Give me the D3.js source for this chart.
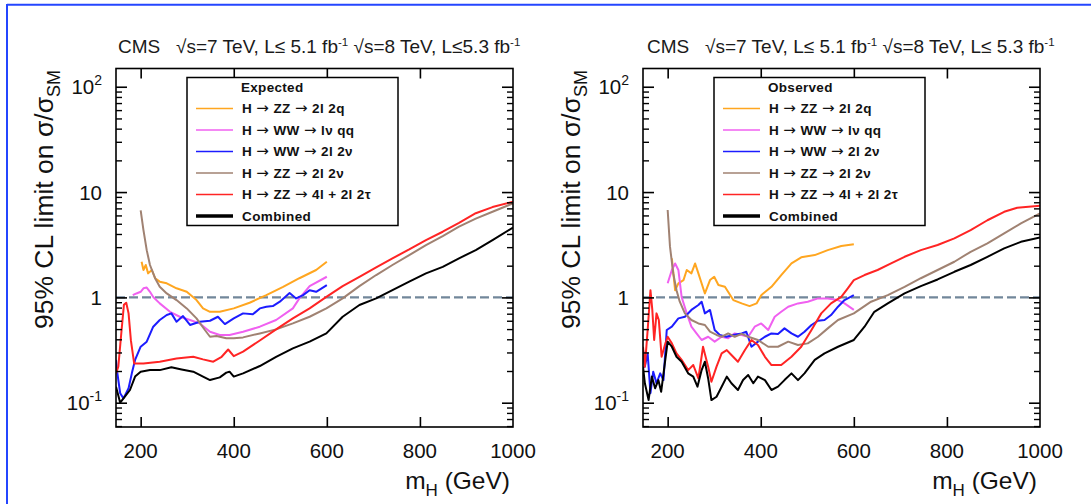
<!DOCTYPE html>
<html><head><meta charset="utf-8">
<script src="https://cdn.jsdelivr.net/npm/d3@7"></script>
<style>
html,body{margin:0;padding:0;background:#fff;}
svg{display:block;font-family:"Liberation Sans",Arial,Helvetica,sans-serif;}
text{white-space:pre;}
</style></head><body>
<svg id="chart" width="1091" height="504"></svg>
<script>
// ---------------- data ----------------
const massTicks = [200, 400, 600, 800, 1000];
const yMajorTicks = [0.1, 1, 10, 100];
const yTickBase = ["10", "1", "10", "10"];
const yTickSup = ["-1", "", "", "2"];
const seriesLabels = ["H \u2192 ZZ \u2192 2l 2q", "H \u2192 WW \u2192 l\u03BD qq", "H \u2192 WW \u2192 2l 2\u03BD",
  "H \u2192 ZZ \u2192 2l 2\u03BD", "H \u2192 ZZ \u2192 4l + 2l 2\u03C4", "Combined"];
const seriesColors = ["#ffa620", "#f060f0", "#1c1cff", "#a08272", "#ff2424", "#000000"];
const panelTitles = ["Expected", "Observed"];
const headerTexts = [
  ["CMS   \u221As=7 TeV, L\u2264 5.1 fb", "-1", " \u221As=8 TeV, L\u22645.3 fb", "-1"],
  ["CMS   \u221As=7 TeV, L\u2264 5.1 fb", "-1", " \u221As=8 TeV, L\u2264 5.3 fb", "-1"]
];

// Expected limits [mH, limit]
const expZZ2l2q = [[202,2.18],[206,1.82],[211,2.03],[216,1.69],[224,1.82],[231,1.52],[241,1.41],[256,1.36],[277,1.22],[299,1.13],[320,0.943],[334,0.786],[349,0.73],[370,0.73],[400,0.786],[434,0.89],[470,1.05],[506,1.26],[541,1.52],[577,1.82],[600,2.18]];
const expWWlvqq = [[183,1.05],[191,1.09],[200,1.13],[206,1.22],[213,1.24],[220,1.13],[227,1.01],[241,0.877],[263,0.73],[284,0.655],[306,0.61],[327,0.566],[349,0.472],[370,0.44],[391,0.44],[420,0.472],[456,0.527],[491,0.61],[527,0.786],[541,0.978],[563,1.28],[600,1.57]];
const expWW2l2v = [[147,0.255],[149,0.204],[156,0.123],[163,0.11],[174,0.137],[181,0.19],[188,0.255],[200,0.34],[213,0.38],[227,0.527],[241,0.61],[256,0.68],[266,0.705],[277,0.587],[291,0.665],[306,0.547],[327,0.587],[349,0.6],[366,0.655],[381,0.558],[400,0.632],[420,0.705],[441,0.69],[456,0.786],[470,0.816],[484,0.827],[499,0.91],[520,1.1],[534,0.978],[549,1.05],[563,1.17],[577,1.13],[600,1.31]];
const expZZ2l2v = [[200,6.7],[206,4.35],[213,2.81],[220,2.03],[231,1.52],[241,1.26],[256,1.09],[277,0.943],[299,0.786],[320,0.632],[338,0.49],[349,0.423],[363,0.43],[384,0.41],[400,0.41],[420,0.417],[456,0.455],[491,0.497],[527,0.566],[563,0.655],[599,0.786],[634,0.978],[670,1.28],[706,1.63],[741,2.03],[777,2.52],[813,3.14],[849,3.82],[884,4.69],[920,5.6],[956,6.5],[1000,7.8]];
const expZZ4l = [[147,0.19],[152,0.22],[159,0.49],[164,0.85],[169,0.89],[174,0.705],[179,0.39],[186,0.236],[206,0.236],[241,0.245],[277,0.263],[313,0.273],[334,0.258],[356,0.245],[374,0.273],[388,0.32],[400,0.277],[420,0.305],[456,0.39],[491,0.497],[527,0.632],[563,0.786],[599,1.01],[634,1.28],[670,1.57],[706,1.93],[741,2.35],[777,2.85],[813,3.5],[849,4.2],[884,5.1],[920,6.3],[956,7.2],[1000,8.1]];
const expCombined = [[147,0.142],[156,0.10],[166,0.114],[177,0.132],[188,0.177],[200,0.197],[220,0.204],[241,0.204],[266,0.217],[288,0.207],[313,0.197],[334,0.177],[349,0.164],[370,0.174],[384,0.193],[391,0.197],[400,0.177],[420,0.19],[456,0.223],[491,0.273],[527,0.328],[563,0.38],[599,0.455],[634,0.655],[670,0.846],[706,0.978],[741,1.17],[777,1.41],[813,1.69],[849,1.95],[884,2.35],[920,2.81],[956,3.5],[1000,4.6]];

// Observed limits [mH, limit]
const obsZZ2l2q = [[209,2.35],[216,1.17],[223,1.36],[234,1.46],[241,1.82],[251,1.69],[259,2.1],[266,1.69],[280,1.09],[291,1.46],[300,1.57],[309,1.31],[323,1.26],[341,0.943],[359,0.877],[376,0.827],[391,0.877],[401,1.05],[423,1.26],[444,1.63],[466,2.1],[487,2.4],[516,2.52],[544,2.81],[573,3.07],[600,3.2]];
const obsWWlvqq = [[200,1.36],[209,1.82],[216,2.1],[223,1.82],[230,1.01],[241,0.705],[251,0.527],[262,0.455],[273,0.394],[287,0.423],[301,0.38],[316,0.423],[330,0.41],[344,0.455],[359,0.44],[373,0.423],[387,0.527],[401,0.566],[416,0.49],[430,0.655],[444,0.73],[459,0.816],[480,0.877],[501,0.91],[523,0.978],[544,0.978],[566,0.943],[580,0.877],[600,0.76]];
const obsWW2l2v = [[147,0.316],[151,0.22],[157,0.294],[163,0.123],[169,0.197],[176,0.153],[184,0.19],[191,0.164],[198,0.49],[209,0.527],[223,0.632],[237,0.655],[251,0.76],[266,0.846],[273,0.91],[280,0.705],[291,0.76],[301,0.49],[312,0.44],[326,0.423],[341,0.44],[359,0.455],[369,0.472],[380,0.34],[394,0.38],[409,0.423],[423,0.455],[437,0.45],[451,0.508],[466,0.455],[480,0.423],[494,0.472],[509,0.547],[523,0.6],[537,0.61],[551,0.68],[566,0.816],[580,0.943],[600,1.05]];
const obsZZ2l2v = [[200,6.75],[205,3.03],[212,1.69],[219,1.17],[226,0.91],[237,0.705],[251,0.61],[266,0.566],[280,0.547],[291,0.472],[305,0.44],[316,0.423],[330,0.455],[344,0.423],[359,0.45],[373,0.423],[394,0.394],[416,0.34],[437,0.34],[459,0.38],[480,0.353],[501,0.366],[523,0.423],[544,0.508],[566,0.61],[600,0.705],[637,0.91],[673,1.05],[709,1.26],[744,1.52],[780,1.82],[816,2.18],[851,2.71],[887,3.26],[923,4.05],[959,5.04],[1000,6.27]];
const obsZZ4l = [[147,0.34],[151,0.22],[157,0.49],[163,1.17],[167,0.76],[171,0.394],[176,0.705],[181,0.61],[187,0.273],[194,0.353],[200,0.423],[209,0.366],[219,0.294],[230,0.255],[244,0.204],[255,0.228],[266,0.17],[276,0.34],[287,0.22],[294,0.158],[305,0.22],[316,0.294],[327,0.316],[337,0.284],[351,0.245],[366,0.316],[380,0.394],[394,0.353],[409,0.273],[423,0.228],[444,0.228],[466,0.273],[487,0.34],[509,0.49],[530,0.705],[551,0.877],[573,1.01],[587,1.22],[600,1.46],[623,1.63],[651,1.82],[680,2.1],[709,2.43],[744,2.81],[780,3.14],[816,3.63],[851,4.35],[887,5.4],[923,6.5],[951,7.1],[1000,7.4]];
const obsCombined = [[147,0.22],[151,0.153],[159,0.106],[166,0.177],[173,0.137],[180,0.164],[186,0.127],[193,0.22],[200,0.38],[209,0.34],[219,0.273],[230,0.245],[244,0.19],[255,0.177],[264,0.142],[273,0.204],[280,0.245],[287,0.17],[294,0.106],[305,0.114],[316,0.142],[327,0.177],[337,0.153],[351,0.132],[362,0.164],[373,0.183],[384,0.153],[394,0.177],[409,0.164],[423,0.132],[437,0.142],[451,0.164],[466,0.19],[480,0.164],[494,0.19],[516,0.255],[537,0.294],[566,0.34],[600,0.394],[623,0.527],[644,0.73],[673,0.877],[709,1.09],[744,1.28],[780,1.48],[816,1.75],[851,2.03],[887,2.43],[923,2.92],[959,3.37],[1000,3.7]];

const expectedSeries = [expZZ2l2q, expWWlvqq, expWW2l2v, expZZ2l2v, expZZ4l, expCombined];
const observedSeries = [obsZZ2l2q, obsWWlvqq, obsWW2l2v, obsZZ2l2v, obsZZ4l, obsCombined];
const smReference = 1;
const massDomain = [147, 1000];
const limitDomain = [0.0588, 149];

// ---------------- drawing ----------------
const svg = d3.select("#chart");
const FONT = "'Liberation Sans',Arial,Helvetica,sans-serif";
const ARROW_FONT = "'DejaVu Sans',sans-serif";

// outer blue frame (top & left)
svg.append("line").attr("x1", 7).attr("x2", 1091).attr("y1", 4.8).attr("y2", 4.8)
  .attr("stroke", "#2446ff").attr("stroke-width", 2);
svg.append("line").attr("x1", 7).attr("x2", 7).attr("y1", 4).attr("y2", 504)
  .attr("stroke", "#2446ff").attr("stroke-width", 2);

const panels = [
  {x0: 116, x1: 513, series: expectedSeries, title: panelTitles[0], header: headerTexts[0], hx: 118},
  {x0: 643, x1: 1040, series: observedSeries, title: panelTitles[1], header: headerTexts[1], hx: 647}
];
const yTop = 68.5, yBot = 427;

panels.forEach((p, pi) => {
  const x = d3.scaleLinear().domain(massDomain).range([p.x0, p.x1]);
  const y = d3.scaleLog().domain(limitDomain).range([yBot, yTop]);
  const g = svg.append("g");

  const clipId = "clip" + pi;
  g.append("clipPath").attr("id", clipId).append("rect")
    .attr("x", p.x0).attr("y", yTop).attr("width", p.x1 - p.x0).attr("height", yBot - yTop);

  // header
  const ht = g.append("text").attr("x", p.hx).attr("y", 53).attr("font-size", 19)
    .attr("fill", "#1a1a1a").attr("font-family", FONT);
  ht.append("tspan").text(p.header[0]);
  ht.append("tspan").attr("dy", -7).attr("font-size", 11.5).text(p.header[1]);
  ht.append("tspan").attr("dy", 7).text(p.header[2]);
  ht.append("tspan").attr("dy", -7).attr("font-size", 11.5).text(p.header[3]);

  // SM reference dashed line
  g.append("line").attr("x1", p.x0).attr("x2", p.x1)
    .attr("y1", y(smReference)).attr("y2", y(smReference))
    .attr("stroke", "#72879a").attr("stroke-width", 2.2).attr("stroke-dasharray", "9,4");

  // curves
  const line = d3.line().x(d => x(d[0])).y(d => y(d[1]));
  const cg = g.append("g").attr("clip-path", `url(#${clipId})`);
  p.series.forEach((s, si) => {
    cg.append("path").datum(s).attr("d", line).attr("fill", "none")
      .attr("stroke", seriesColors[si]).attr("stroke-width", 2).attr("stroke-linejoin", "round");
  });

  // frame
  g.append("rect").attr("x", p.x0).attr("y", yTop).attr("width", p.x1 - p.x0).attr("height", yBot - yTop)
    .attr("fill", "none").attr("stroke", "#000").attr("stroke-width", 1.6);

  // x ticks (bottom + top)
  const inner = massTicks.filter(t => t < massDomain[1]);
  g.append("g").attr("transform", `translate(0,${yBot})`)
    .call(d3.axisBottom(x).tickValues(inner).tickSizeInner(-10).tickSizeOuter(0).tickFormat(""))
    .call(a => a.select(".domain").remove())
    .call(a => a.selectAll("line").attr("stroke", "#000").attr("stroke-width", 1.6));
  g.append("g").attr("transform", `translate(0,${yTop})`)
    .call(d3.axisTop(x).tickValues(inner).tickSizeInner(-10).tickSizeOuter(0).tickFormat(""))
    .call(a => a.select(".domain").remove())
    .call(a => a.selectAll("line").attr("stroke", "#000").attr("stroke-width", 1.6));
  massTicks.forEach(t => {
    g.append("text").attr("x", x(t)).attr("y", 458).attr("text-anchor", "middle")
      .attr("font-size", 20.5).attr("font-family", FONT).attr("fill", "#111").text(t);
  });

  // y ticks
  const minor = [];
  for (let e = -2; e <= 2; e++) for (let k = 2; k <= 9; k++) {
    const v = k * Math.pow(10, e);
    if (v > limitDomain[0] && v < limitDomain[1]) minor.push(v);
  }
  [[d3.axisLeft, p.x0], [d3.axisRight, p.x1]].forEach(([ax, xp]) => {
    g.append("g").attr("transform", `translate(${xp},0)`)
      .call(ax(y).tickValues(yMajorTicks).tickSizeInner(-11).tickSizeOuter(0).tickFormat(""))
      .call(a => a.select(".domain").remove())
      .call(a => a.selectAll("line").attr("stroke", "#000").attr("stroke-width", 1.6));
    g.append("g").attr("transform", `translate(${xp},0)`)
      .call(ax(y).tickValues(minor).tickSizeInner(-6).tickSizeOuter(0).tickFormat(""))
      .call(a => a.select(".domain").remove())
      .call(a => a.selectAll("line").attr("stroke", "#000").attr("stroke-width", 1.4));
  });
  yMajorTicks.forEach((v, i) => {
    const t = g.append("text").attr("x", p.x0 - 14).attr("y", y(v) + 7.5).attr("text-anchor", "end")
      .attr("font-size", 20.5).attr("font-family", FONT).attr("fill", "#111");
    t.append("tspan").text(yTickBase[i]);
    if (yTickSup[i]) t.append("tspan").attr("dy", -9).attr("font-size", 14).text(yTickSup[i]);
  });

  // y axis title
  const yt = g.append("text").attr("transform", `translate(${p.x0 - 63},70) rotate(-90)`)
    .attr("text-anchor", "end").attr("font-size", 26.5).attr("font-family", FONT).attr("fill", "#111");
  yt.append("tspan").text("95% CL limit on \u03C3/\u03C3");
  yt.append("tspan").attr("dy", 7).attr("font-size", 18).text("SM");

  // x axis title
  const xt = g.append("text").attr("x", p.x1 - 3).attr("y", 489).attr("text-anchor", "end")
    .attr("font-size", 24.5).attr("font-family", FONT).attr("fill", "#111");
  xt.append("tspan").text("m");
  xt.append("tspan").attr("dy", 7).attr("font-size", 17).text("H");
  xt.append("tspan").attr("dy", -7).text(" (GeV)");

  // legend
  const lx = p.x0 + 71, ly = 77.5, lw = 211, lh = 148;
  g.append("rect").attr("x", lx).attr("y", ly).attr("width", lw).attr("height", lh)
    .attr("fill", "#fff").attr("stroke", "#000").attr("stroke-width", 1.5);
  g.append("text").attr("x", lx + 54).attr("y", 91.5).attr("font-size", 13.5).attr("font-weight", "bold")
    .attr("letter-spacing", 0.3).attr("font-family", FONT).attr("fill", "#111").text(p.title);
  seriesLabels.forEach((lab, i) => {
    const cy = 108.5 + i * 21.5;
    g.append("line").attr("x1", lx + 9).attr("x2", lx + 46).attr("y1", cy).attr("y2", cy)
      .attr("stroke", seriesColors[i]).attr("stroke-width", i === 5 ? 3.5 : 1.6);
    const t = g.append("text").attr("x", lx + 55).attr("y", cy + 4.8).attr("font-size", 13.5)
      .attr("letter-spacing", 0.4).attr("font-weight", "bold").attr("font-family", FONT).attr("fill", "#111");
    lab.split("\u2192").forEach((part, k) => {
      if (k > 0) t.append("tspan").attr("font-family", ARROW_FONT).attr("font-weight", "normal")
        .attr("font-size", 15).text("\u2192");
      t.append("tspan").text(part);
    });
  });
});
</script>
</body></html>
